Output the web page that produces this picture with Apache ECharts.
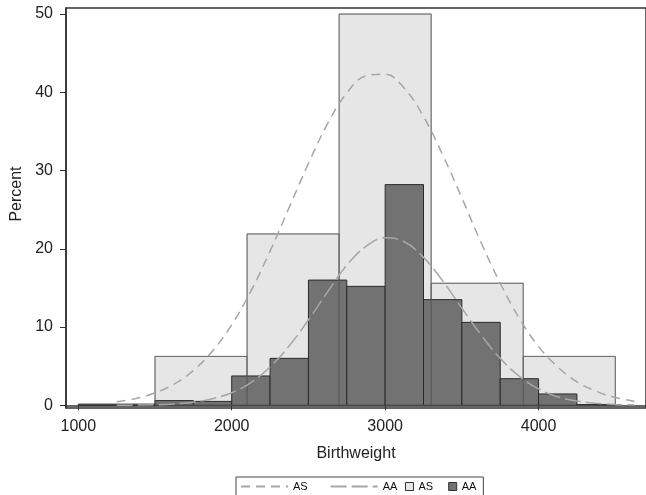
<!DOCTYPE html>
<html>
<head>
<meta charset="utf-8">
<script src="https://cdn.jsdelivr.net/npm/echarts@6/dist/echarts.min.js"></script>
<style>
  html, body { margin: 0; padding: 0; background: #fff; }
  #chart { width: 646px; height: 495px; }
</style>
</head>
<body>
<div id="chart"></div>
<script>
// AS histogram (bin width 600)
const asBinEdges = [1500, 2100, 2700, 3300, 3900, 4500]
const asPercent = [6.25, 21.9, 50, 15.6, 6.25]

// AA histogram (bin width 250)
const aaBinEdges = [1000, 1250, 1500, 1750, 2000, 2250, 2500, 2750, 3000, 3250, 3500, 3750, 4000, 4250, 4500]
const aaPercent = [0.15, 0.15, 0.6, 0.5, 3.75, 6.0, 16.0, 15.2, 28.2, 13.5, 10.6, 3.4, 1.45, 0.1]

// fitted normal curves, every 125 g
const curveX = [1250, 1375, 1500, 1625, 1750, 1875, 2000, 2125, 2250, 2375, 2500, 2625, 2750, 2875,
  3000, 3125, 3250, 3375, 3500, 3625, 3750, 3875, 4000, 4125, 4250, 4375, 4500, 4625]
const asCurveY = [0.46, 0.87, 1.6, 2.7, 4.45, 6.95, 10.3, 14.6, 19.7, 25.3, 30.9, 36.0, 39.9, 42.1,
  42.3, 40.5, 36.9, 32.0, 26.5, 20.8, 15.6, 11.1, 7.5, 4.9, 3.0, 1.8, 1.0, 0.5]
const aaCurveY = [0.01, 0.03, 0.07, 0.18, 0.4, 0.85, 1.6, 2.9, 4.9, 7.6, 10.9, 14.5, 17.9, 20.3,
  21.4, 20.9, 18.9, 15.9, 12.4, 9.0, 6.0, 3.7, 2.1, 1.1, 0.55, 0.25, 0.1, 0.04]

const xTicks = [1000, 2000, 3000, 4000]
const yTicks = [0, 10, 20, 30, 40, 50]

const toBins = (edges, vals) => vals.map((v, i) => [edges[i], edges[i + 1], v])
const toPoints = (xs, ys) => xs.map((x, i) => [x, ys[i]])

function rectItem(style) {
  return function (params, api) {
    const p0 = api.coord([api.value(0), api.value(2)])
    const p1 = api.coord([api.value(1), 0])
    return {
      type: 'rect',
      shape: { x: p0[0], y: p0[1], width: p1[0] - p0[0], height: p1[1] - p0[1] },
      style: style
    }
  }
}

const chart = echarts.init(document.getElementById('chart'))
const font = 'Liberation Sans, Arial, sans-serif'
const curveColor = '#a6a6a6'

const option = {
  animation: false,
  textStyle: { fontFamily: font },
  grid: {
    left: 66, top: 8, right: -2, bottom: 87,
    show: true, borderColor: '#333', borderWidth: 1.5
  },
  xAxis: {
    type: 'value',
    min: 920,
    max: 4700,
    name: 'Birthweight',
    nameLocation: 'middle',
    nameGap: 38,
    nameTextStyle: { fontSize: 16, color: '#222', fontFamily: font },
    axisLine: { lineStyle: { color: '#333', width: 1.5 } },
    axisTick: { customValues: xTicks, length: 5, lineStyle: { color: '#333' } },
    axisLabel: {
      customValues: xTicks, fontSize: 16, color: '#222', margin: 11, fontFamily: font,
      formatter: v => String(v)
    },
    splitLine: { show: false }
  },
  yAxis: {
    type: 'value',
    min: -0.345,
    max: 50.77,
    name: 'Percent',
    nameLocation: 'middle',
    nameGap: 40,
    nameTextStyle: { fontSize: 16, color: '#222', fontFamily: font, padding: [0, 0, 0, 28] },
    axisLine: { show: true, lineStyle: { color: '#333', width: 1.5 } },
    axisTick: { show: true, customValues: yTicks, length: 6, lineStyle: { color: '#333' } },
    axisLabel: { customValues: yTicks, fontSize: 16, color: '#222', margin: 13, fontFamily: font },
    splitLine: { show: false }
  },
  legend: [
    {
      left: 236,
      top: 477,
      padding: [4, 86, 12, 4],
      borderColor: '#444',
      borderWidth: 1,
      itemWidth: 47,
      itemHeight: 2,
      itemGap: 22,
      textStyle: { fontSize: 11, color: '#111', fontFamily: font },
      formatter: n => n.split('_')[0],
      data: ['AS_curve', 'AA_curve']
    },
    {
      left: 405,
      top: 481,
      padding: 0,
      itemWidth: 8,
      itemHeight: 8,
      itemGap: 15,
      textStyle: { fontSize: 11, color: '#111', fontFamily: font },
      formatter: n => n.split('_')[0],
      data: [
        { name: 'AS_bar', icon: 'rect', itemStyle: { color: '#e6e6e6', borderColor: '#333', borderWidth: 1 } },
        { name: 'AA_bar', icon: 'rect', itemStyle: { color: '#727272', borderColor: '#333', borderWidth: 1 } }
      ]
    }
  ],
  series: [
    {
      name: 'AS_bar',
      type: 'custom',
      z: 1,
      itemStyle: { color: '#e6e6e6' },
      encode: { x: [0, 1], y: 2 },
      data: toBins(asBinEdges, asPercent),
      renderItem: rectItem({ fill: '#e6e6e6', stroke: '#8c8c8c', lineWidth: 1 })
    },
    {
      name: 'AA_bar',
      type: 'custom',
      z: 2,
      itemStyle: { color: '#727272' },
      encode: { x: [0, 1], y: 2 },
      data: toBins(aaBinEdges, aaPercent),
      renderItem: rectItem({ fill: '#727272', stroke: '#2a2a2a', lineWidth: 1 })
    },
    {
      // AS bar outlines show through the AA bars
      name: 'AS_edge',
      type: 'custom',
      z: 3,
      silent: true,
      encode: { x: [0, 1], y: 2 },
      data: toBins(asBinEdges, asPercent),
      renderItem: rectItem({ fill: 'none', stroke: '#555', lineWidth: 1, opacity: 0.6 })
    },
    {
      name: 'AS_curve',
      type: 'line',
      z: 4,
      smooth: 0.4,
      symbol: 'none',
      color: curveColor,
      lineStyle: { color: curveColor, width: 1.5, type: [9, 6] },
      data: toPoints(curveX, asCurveY)
    },
    {
      name: 'AA_curve',
      type: 'line',
      z: 4,
      smooth: 0.4,
      symbol: 'none',
      color: curveColor,
      lineStyle: { color: curveColor, width: 1.5, type: [16, 5] },
      data: toPoints(curveX, aaCurveY)
    }
  ]
}

chart.setOption(option)
</script>
</body>
</html>
